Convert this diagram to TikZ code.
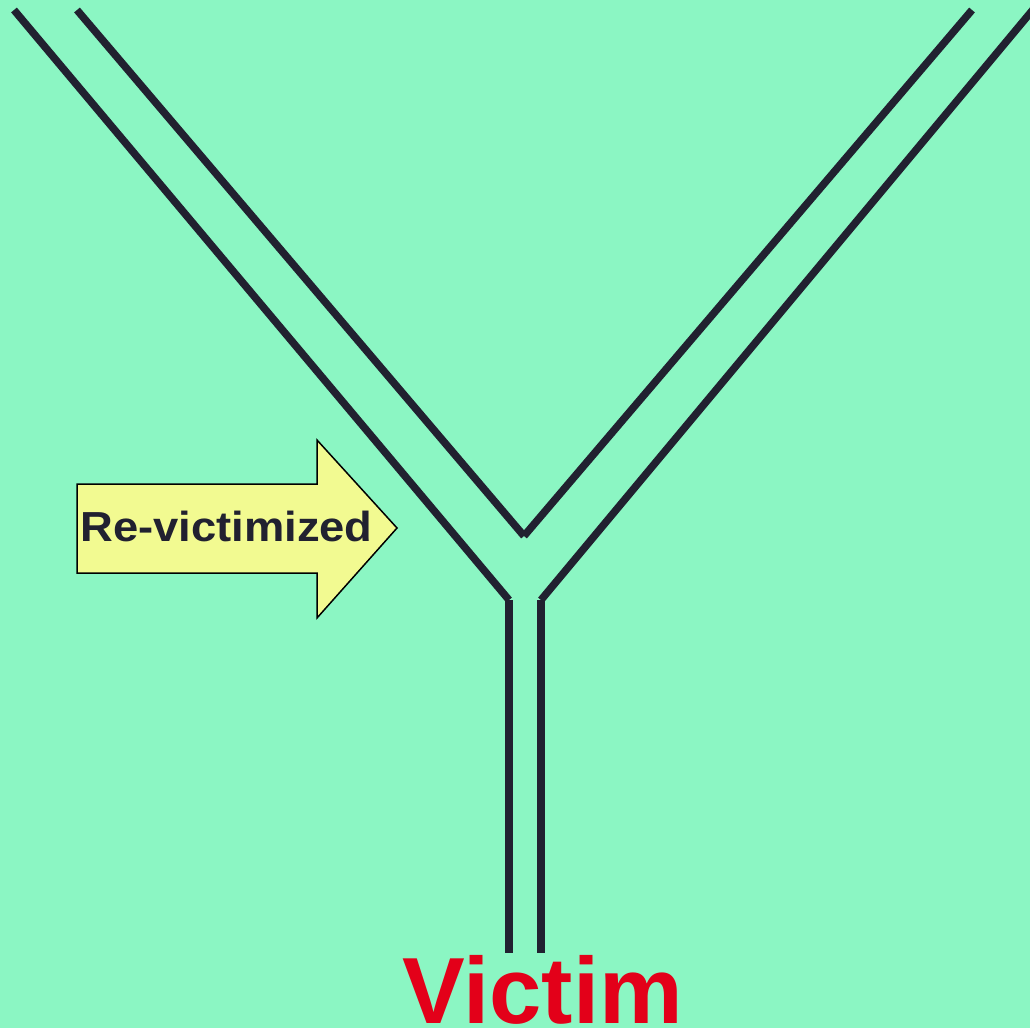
\documentclass[tikz,border=0pt]{standalone}
\usepackage{fontspec}
\setmainfont{Liberation Sans}
\definecolor{mint}{RGB}{139,246,195}
\definecolor{pipe}{RGB}{33,33,48}
\definecolor{red}{RGB}{227,0,25}
\definecolor{lemon}{RGB}{242,250,145}
\begin{document}
\begin{tikzpicture}[x=1pt,y=1pt,yscale=-1,xscale=1,
  pipeline/.style={draw=pipe,line width=7.5pt,line cap=butt}]
%background
\fill [mint] (0,0) rectangle (1030,1028);
\clip (0,0) rectangle (1030,1028);

%Points of the Y
\coordinate (ol) at (14,10);
\coordinate (il) at (77,10);
\coordinate (ir) at (972,10);
\coordinate (or) at (1036,6);
\coordinate (vx) at (524,536);
\coordinate (lj) at (509,600);
\coordinate (rj) at (541,600);
\coordinate (lb) at (509,953);
\coordinate (rb) at (541,953);

%Straight Lines: outer and inner arms
\draw [pipeline] (ol) -- (lj) ;
\draw [pipeline] (il) -- (vx) ;
\draw [pipeline] (vx) -- (ir) ;
\draw [pipeline] (or) -- (rj) ;
%Straight Lines: stem
\draw [pipeline] (lj) -- (lb) ;
\draw [pipeline] (rj) -- (rb) ;

%Shape: Right Arrow
\draw [fill=lemon,line width=1.5pt,line join=miter] (77,484) -- (317,484) -- (317,440) -- (397,528) -- (317,618) -- (317,573) -- (77,573) -- cycle ;

% Text Node
\node (revict) at (226.5,526) [inner sep=0pt,text=pipe,font=\fontsize{42}{48}\selectfont\bfseries,xscale=1.08] {Re-victimized};
% Text Node
\node (victim) at (542.5,1023) [anchor=base,inner sep=0pt,text=red,font=\fontsize{94}{100}\selectfont\bfseries] {Victim};

\end{tikzpicture}
\end{document}
